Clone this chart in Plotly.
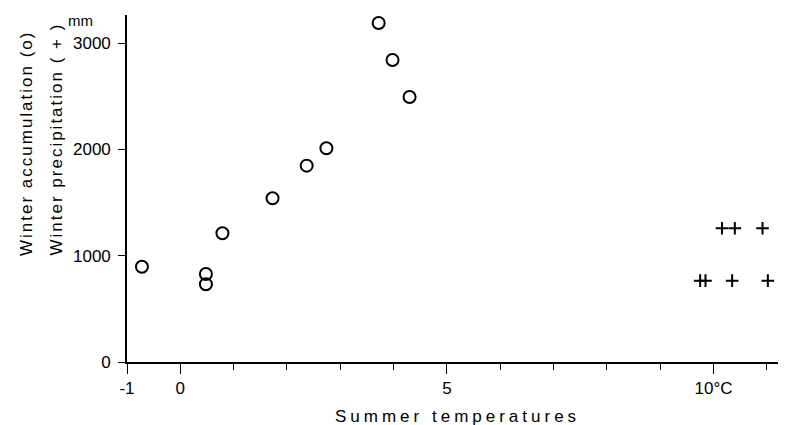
import plotly.graph_objects as go

# Winter accumulation (circles): summer temperature (°C) vs mm
acc_temp = [-0.72, 0.48, 0.48, 0.79, 1.73, 2.37, 2.74, 3.72, 3.98, 4.30]
acc_mm = [896, 828, 731, 1211, 1540, 1847, 2010, 3189, 2841, 2493]

# Winter precipitation (plus signs)
prec_temp = [10.16, 10.40, 10.92, 9.75, 9.85, 10.35, 11.02]
prec_mm = [1258, 1258, 1258, 765, 765, 765, 765]

x_tickvals = [-1, 0, 5, 10]
x_ticktext = ["-1", "0", "5", "10°C"]
y_tickvals = [0, 1000, 2000, 3000]
y_ticktext = ["0", "1000", "2000", "3000"]

x_title = "Summer temperatures"
y_title_1 = "Winter accumulation (o)"
y_title_2 = "Winter precipitation ( + )"
unit_label = "mm"

FONT = "Liberation Sans"

fig = go.Figure()
fig.add_trace(go.Scatter(
    x=acc_temp, y=acc_mm, mode="markers",
    marker=dict(symbol="circle-open", size=12, color="black", line=dict(width=2, color="black")),
    showlegend=False, cliponaxis=False,
))
fig.add_trace(go.Scatter(
    x=prec_temp, y=prec_mm, mode="markers",
    marker=dict(symbol="cross-thin", size=9, color="black", line=dict(width=2, color="black")),
    showlegend=False, cliponaxis=False,
))

# page body has an 8px margin, so the figure is 8px smaller than the window
fig.update_layout(
    width=778, height=417,
    margin=dict(l=119, r=0, t=7, b=63),
    paper_bgcolor="white", plot_bgcolor="white",
    font=dict(family=FONT, size=17, color="black"),
    xaxis=dict(
        range=[-1, 11.36], showgrid=False, zeroline=False,
        showline=True, linecolor="black", linewidth=1.6,
        tickmode="array", tickvals=x_tickvals, ticktext=x_ticktext,
        ticks="outside", ticklen=10, tickwidth=1.4, tickcolor="black",
        tickfont=dict(family=FONT, size=17, color="black"),
        minor=dict(dtick=1, tick0=-1, ticks="outside", ticklen=6, tickwidth=1.4, tickcolor="black", showgrid=False),
    ),
    yaxis=dict(
        range=[0, 3264], showgrid=False, zeroline=False,
        showline=True, linecolor="black", linewidth=1.6,
        tickmode="array", tickvals=y_tickvals, ticktext=y_ticktext,
        ticks="outside", ticklen=7, tickwidth=1.4, tickcolor="black",
        ticklabelstandoff=4,
        tickfont=dict(family=FONT, size=17, color="black"),
    ),
)

fig.add_annotation(
    text=f'<span style="letter-spacing:4px">{x_title}</span>',
    xref="paper", yref="paper", x=0.5008, y=-0.1585,
    xanchor="center", yanchor="middle", showarrow=False,
    font=dict(family=FONT, size=17, color="black"),
)
fig.add_annotation(
    text=f'<span style="letter-spacing:2px">{y_title_1}</span>',
    xref="paper", yref="y", x=0, y=978, xshift=-101,
    xanchor="center", yanchor="bottom", textangle=-90, showarrow=False,
    font=dict(family=FONT, size=17, color="black"),
)
fig.add_annotation(
    text=f'<span style="letter-spacing:2px">{y_title_2}</span>',
    xref="paper", yref="y", x=0, y=978, xshift=-70,
    xanchor="center", yanchor="bottom", textangle=-90, showarrow=False,
    font=dict(family=FONT, size=17, color="black"),
)
fig.add_annotation(
    text=unit_label,
    xref="paper", yref="y", x=0, y=3208, xshift=-47,
    xanchor="center", yanchor="middle", showarrow=False,
    font=dict(family=FONT, size=15, color="black"),
)

fig.write_html("out.html")
